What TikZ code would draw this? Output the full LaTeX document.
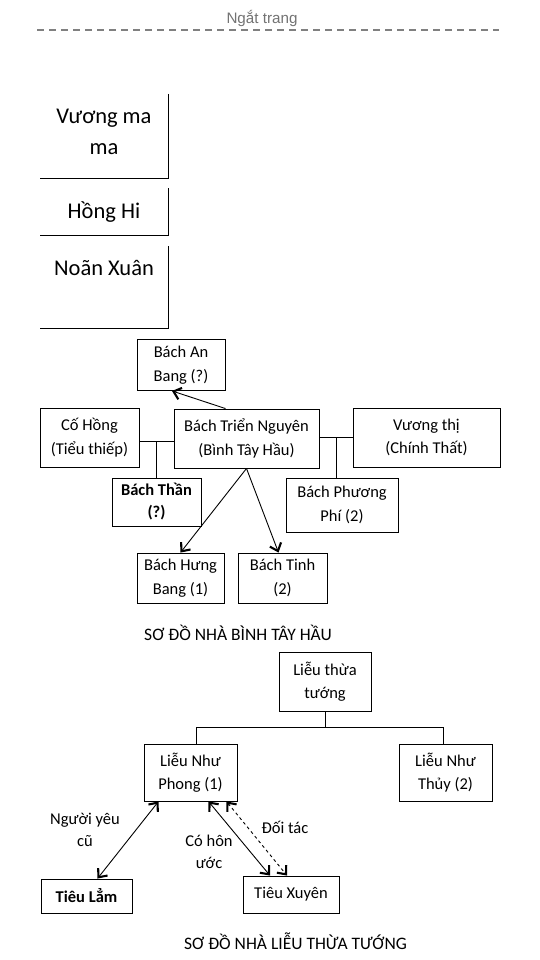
\documentclass[tikz,border=0pt]{standalone}
\usepackage{fontspec}
\setmainfont{Carlito}
\newfontfamily\breakfont{Liberation Sans}
\usetikzlibrary{arrows.meta}
\begin{document}
\begin{tikzpicture}[x=1pt, y=-1pt, line width=0.9pt,
  >={Straight Barb[length=7pt, width=12pt, line width=2.1pt]},
  box/.style={draw, align=center, inner sep=0pt, font=\fontsize{16.5}{23.5}\selectfont},
  big/.style={align=center, inner sep=0pt, font=\fontsize{22.5}{31}\selectfont},
  note/.style={align=center, inner sep=0pt, font=\fontsize{16.5}{22}\selectfont},
  caption/.style={inner sep=0pt, font=\fontsize{17.5}{21}\selectfont}]

\fill[white] (0, 0) rectangle (540, 960);
\useasboundingbox (0, 0) rectangle (540, 960);

\node[anchor=base, inner sep=0pt, text=black!55, font=\breakfont\fontsize{15.2}{18}\selectfont] (brk) at (262, 24) {Ngắt trang};
\draw[black!50, line width=2pt, dash pattern=on 7pt off 5pt] (37, 30) -- (499, 30);

\node[big] (vuong) at (104, 132) {Vương ma\\ma};
\draw (168, 94) -- (168, 178) -- (40, 178);
\node[big] (hongh) at (104, 212) {Hồng Hi};
\draw (168, 188) -- (168, 235) -- (40, 235);
\node[big] (noan) at (104, 268) {Noãn Xuân};
\draw (168, 246) -- (168, 328) -- (40, 328);

\node[box, minimum width=88, minimum height=51] (an) at (181, 365) {Bách An\\Bang (?)};
\node[box, minimum width=99, minimum height=59] (co) at (89.5, 437.5) {Cố Hồng\\(Tiểu thiếp)};
\node[box, minimum width=145, minimum height=59] (trien) at (246.5, 438.5) {Bách Triển Nguyên\\(Bình Tây Hầu)};
\node[box, minimum width=147, minimum height=59] (thi) at (426.5, 437.5) {Vương thị\\(Chính Thất)};
\node[box, minimum width=89, minimum height=48, font=\bfseries\fontsize{16.5}{22}\selectfont] (than) at (156.5, 502) {Bách Thần\\(?)};
\node[box, minimum width=112, minimum height=54] (phi) at (342, 505) {Bách Phương\\Phí (2)};
\node[box, minimum width=87, minimum height=50] (hung) at (180.5, 578) {Bách Hưng\\Bang (1)};
\node[box, minimum width=89, minimum height=50] (tinh) at (282.5, 578) {Bách Tinh\\(2)};

\draw[->] ([xshift=-21pt]trien.north) -- ([xshift=-9pt]an.south);
\draw ([yshift=-3.5pt]co.east) -- coordinate[pos=0.5] (mid1) ([yshift=-3.5pt]co.east -| trien.west);
\draw (mid1) -- (mid1 |- than.north);
\draw ([yshift=0.5pt]thi.west -| trien.east) -- coordinate[pos=0.5] (mid2) ([yshift=0.5pt]thi.west);
\draw (mid2) -- (mid2 |- phi.north);
\draw[->] (trien.south) -- (hung.north);
\draw[->] (trien.south) -- ([xshift=-4pt]tinh.north);

\node[caption] (cap1) at (238, 633) {SƠ ĐỒ NHÀ BÌNH TÂY HẦU};

\node[box, minimum width=92, minimum height=59] (tuong) at (325, 681.5) {Liễu thừa\\tướng};
\node[box, minimum width=93, minimum height=57] (phong) at (190.5, 772.5) {Liễu Như\\Phong (1)};
\node[box, minimum width=93, minimum height=57] (thuy) at (445.5, 772.5) {Liễu Như\\Thủy (2)};
\node[box, minimum width=91, minimum height=34, font=\bfseries\fontsize{16.5}{22}\selectfont] (lam) at (86.5, 896) {Tiêu Lẳm};
\node[box, minimum width=96, minimum height=37] (xuyen) at (291, 894.5) {Tiêu Xuyên};

\draw (tuong.south) -- ++(0, 16) coordinate (fork);
\draw ([xshift=6pt]phong.north) |- (fork) -| ([xshift=-2pt]thuy.north);

\draw[<->] ([xshift=-32pt]phong.south) -- ([xshift=11pt]lam.north);
\draw[<->] ([xshift=18pt]phong.south) -- ([xshift=-21pt]xuyen.north);
\draw[<->, dashed] ([xshift=36pt]phong.south) -- ([xshift=-4pt]xuyen.north);

\node[note] (nguoi) at (85, 830) {Người yêu\\cũ};
\node[note] (hon) at (209, 852) {Có hôn\\ước};
\node[note] (doi) at (285, 827) {Đối tác};

\node[caption] (cap2) at (295.5, 941) {SƠ ĐỒ NHÀ LIỄU THỪA TƯỚNG};

\end{tikzpicture}
\end{document}
